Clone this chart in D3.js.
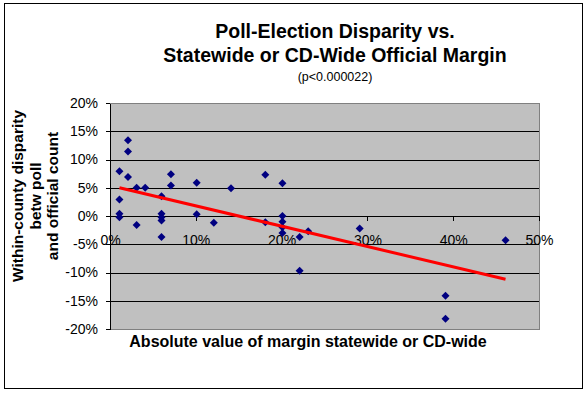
<!DOCTYPE html>
<html>
<head>
<meta charset="utf-8">
<script src="https://cdn.jsdelivr.net/npm/d3@7"></script>
<style>
  body { margin: 0; background: #fff; }
  svg text { font-family: Arial, "Liberation Sans", sans-serif; fill: #000; }
  .axis path, .axis line { stroke: #000; shape-rendering: crispEdges; }
  .axis text { font-size: 14px; }
</style>
</head>
<body>
<svg></svg>
<script>
// margin of the race, % (absolute value)
var marginPct = [1.1, 1.1, 1.1, 1.1, 2.1, 2.1, 2.1, 3.1, 3.1, 4.1,
                 6.0, 6.0, 6.0, 6.0, 6.0, 7.1, 7.1, 10.1, 10.1, 12.1,
                 14.1, 18.1, 18.1, 20.1, 20.1, 20.1, 20.1, 20.1, 22.1, 22.1,
                 23.1, 29.1, 39.1, 39.1, 46.1];
// within-county disparity between poll and official count, %
var disparityPct = [7.9, 2.9, 0.4, -0.2, 13.4, 11.4, 6.9, 5.0, -1.6, 5.0,
                    3.5, 0.4, -0.2, -0.8, -3.7, 7.4, 5.4, 5.9, 0.3, -1.2,
                    4.9, 7.3, -1.1, 5.8, 0.0, -1.0, -2.0, -3.0, -3.7, -9.7,
                    -2.7, -2.2, -14.1, -18.2, -4.3];
// linear trend
var trendSlope = -0.36, trendIntercept = 5.4;

var xTicks = [0, 10, 20, 30, 40, 50];
var yTicks = [-20, -15, -10, -5, 0, 5, 10, 15, 20];
var titleLines = ["Poll-Election Disparity vs.", "Statewide or CD-Wide Official Margin"];
var subtitle = "(p<0.000022)";
var yTitleLines = ["Within-county disparity", "betw poll", "and official count"];
var xTitle = "Absolute value of margin statewide or CD-wide";

var W = 587, H = 393;
var svg = d3.select("svg").attr("width", W).attr("height", H);

var plot = {left: 110, top: 103, right: 539, bottom: 329};

//Chart border
svg.append("rect")
  .attr("x", 4.5).attr("y", 3.5)
  .attr("width", 578).attr("height", 385)
  .attr("fill", "#fff").attr("stroke", "#000");

var x = d3.scaleLinear().domain([0, 50]).range([plot.left, plot.right]);
var y = d3.scaleLinear().domain([-20, 20]).range([plot.bottom, plot.top]);

//Plot area
svg.append("rect")
  .attr("x", plot.left).attr("y", plot.top)
  .attr("width", plot.right - plot.left).attr("height", plot.bottom - plot.top)
  .attr("fill", "#c0c0c0").attr("stroke", "#808080")
  .attr("shape-rendering", "crispEdges");

//Gridlines
svg.append("g").selectAll("line")
  .data(yTicks.filter(function(d) { return d !== 20 && d !== -20; }))
  .enter().append("line")
    .attr("x1", plot.left).attr("x2", plot.right)
    .attr("y1", function(d) { return Math.round(y(d)) + 0.5; })
    .attr("y2", function(d) { return Math.round(y(d)) + 0.5; })
    .attr("stroke", "#000")
    .attr("shape-rendering", "crispEdges");

//Y axis
var yAxis = svg.append("g")
  .attr("class", "axis")
  .attr("transform", "translate(" + plot.left + ",0)")
  .call(d3.axisLeft(y).tickValues(yTicks).tickSizeInner(4).tickSizeOuter(0).tickPadding(8)
    .tickFormat(function(d) { return d + "%"; }));

//X axis crosses at 0
var xAxis = svg.append("g")
  .attr("class", "axis")
  .attr("transform", "translate(0," + y(0) + ")")
  .call(d3.axisBottom(x).tickValues(xTicks).tickSizeInner(5).tickSizeOuter(0).tickPadding(14)
    .tickFormat(function(d) { return d + "%"; }));

//Points
svg.append("g").selectAll("path")
  .data(marginPct.map(function(m, i) { return [m, disparityPct[i]]; }))
  .enter().append("path")
    .attr("d", d3.symbol().type(d3.symbolSquare).size(32))
    .attr("transform", function(d) { return "translate(" + x(d[0]) + "," + y(d[1]) + ") rotate(45)"; })
    .attr("fill", "#000080");

//Trend line
var xExt = d3.extent(marginPct);
svg.append("line")
  .attr("x1", x(xExt[0])).attr("y1", y(trendSlope * xExt[0] + trendIntercept))
  .attr("x2", x(xExt[1])).attr("y2", y(trendSlope * xExt[1] + trendIntercept))
  .attr("stroke", "#ff0000").attr("stroke-width", 3);

//Titles
var cx = 335;
svg.append("g").selectAll("text")
  .data(titleLines)
  .enter().append("text")
    .attr("x", cx)
    .attr("y", function(d, i) { return 38 + i * 24; })
    .attr("text-anchor", "middle")
    .style("font-size", "19.5px").style("font-weight", "bold")
    .text(function(d) { return d; });

svg.append("text")
  .attr("x", cx).attr("y", 81)
  .attr("text-anchor", "middle")
  .style("font-size", "12.5px")
  .text(subtitle);

svg.append("g").selectAll("text")
  .data(yTitleLines)
  .enter().append("text")
    .attr("transform", function(d, i) { return "translate(" + [23, 41, 58][i] + ",196) rotate(-90)"; })
    .attr("text-anchor", "middle")
    .style("font-size", "15.5px").style("font-weight", "bold")
    .text(function(d) { return d; });

svg.append("text")
  .attr("x", 308).attr("y", 347)
  .attr("text-anchor", "middle")
  .style("font-size", "16px").style("font-weight", "bold")
  .text(xTitle);
</script>
</body>
</html>
